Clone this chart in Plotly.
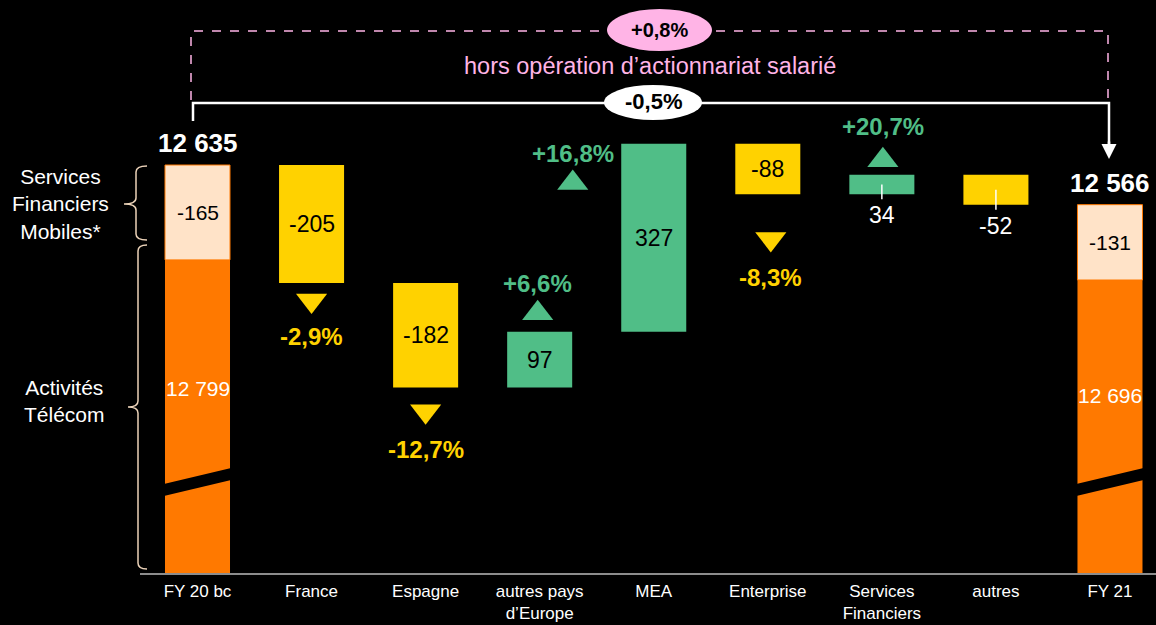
import plotly.graph_objects as go

# ---------------- data ----------------
categories = ["FY 20 bc", "France", "Espagne", "autres pays<br>d’Europe", "MEA",
              "Enterprise", "Services<br>Financiers", "autres", "FY 21"]
total_values = [12635, 12566]            # FY 20 bc, FY 21
total_labels = ["12 635", "12 566"]
mfs_values = [-165, -131]                # Services Financiers Mobiles*
mfs_labels = ["-165", "-131"]
telecom_values = [12799, 12696]          # Activités Télécom
telecom_labels = ["12 799", "12 696"]
delta_values = [-205, -182, 97, 327, -88, 34, -52]
delta_labels = ["-205", "-182", "97", "327", "-88", "34", "-52"]
growth_labels = ["-2,9%", "-12,7%", "+6,6%", "+16,8%", "-8,3%", "+20,7%", ""]
reported_growth = "-0,5%"
adjusted_growth = "+0,8%"
adjusted_note = "hors opération d’actionnariat salarié"
left_labels = ["Services<br>Financiers<br>Mobiles*", "Activités<br>Télécom"]

# ---------------- style ----------------
ORANGE = "#FF7900"
PEACH = "#FFE3C8"
YELLOW = "#FFD200"
GREEN = "#50BE87"
PINK = "#FFB4E6"
BRACE = "#EBD2B8"
FONT = "Liberation Sans, Arial, Helvetica, sans-serif"

W, H = 1156, 625
PLOT_H = 574                  # plot area height (px)
K = 0.575                     # px per unit on the value axis
Y_LO = total_values[0] - (PLOT_H - 165) / K
Y_HI = Y_LO + PLOT_H / K
STEP = 114.06                 # px between categories
X_LO = -197.5 / STEP
X_HI = X_LO + W / STEP
BAR_W = 0.57


def PX(px):
    return px / W


def PY(py):
    return 1 - py / PLOT_H


def du(px):
    return px / K


def A(**kw):
    d = dict(showarrow=False, xanchor="center", yanchor="middle")
    d.update(kw)
    return d


fig = go.Figure()

# ---- totals (stacked orange + peach) ----
fin_x = [0, len(categories) - 1]
telecom_tops = [t + m for t, m in zip(total_values, mfs_values)]
fig.add_trace(go.Bar(x=fin_x, y=telecom_tops, base=[0, 0], width=BAR_W,
                     marker=dict(color=ORANGE, line=dict(width=0)), hoverinfo="skip"))
fig.add_trace(go.Bar(x=fin_x, y=[-m for m in mfs_values], base=telecom_tops, width=BAR_W,
                     marker=dict(color=PEACH, line=dict(color=ORANGE, width=1)), hoverinfo="skip"))

# ---- deltas ----
bases = []
cum = total_values[0]
for d in delta_values:
    bases.append(cum)
    cum += d
dx = list(range(1, len(delta_values) + 1))
dcolors = [GREEN if d > 0 else YELLOW for d in delta_values]
fig.add_trace(go.Bar(x=dx, y=delta_values, base=bases, width=BAR_W,
                     marker=dict(color=dcolors, line=dict(width=0)), hoverinfo="skip"))

ann = []
shapes = []

# total labels above bars
for xi, t, lab in zip(fin_x, total_values, total_labels):
    ann.append(A(x=xi, y=t, xref="x", yref="y", text=lab, yshift=22,
                 font=dict(size=26, color="white", family=FONT, weight="bold")))
# mfs labels centred in peach segment
for xi, tt, m, lab in zip(fin_x, telecom_tops, mfs_values, mfs_labels):
    ann.append(A(x=xi, y=tt - m / 2, xref="x", yref="y", text=lab,
                 font=dict(size=21, color="black", family=FONT)))
# telecom labels
for xi, lab, ypx in zip(fin_x, telecom_labels, [388, 395]):
    ann.append(A(x=xi, y=PY(ypx), xref="x", yref="paper", text=lab,
                 font=dict(size=21, color="white", family=FONT)))

# break marks on the total bars
for xi in fin_x:
    x0 = xi - BAR_W / 2 - 0.01
    x1 = xi + BAR_W / 2 + 0.01
    shapes.append(dict(type="path", xref="x", yref="paper",
                       path=f"M{x0},{PY(484)} L{x1},{PY(468)} L{x1},{PY(480)} L{x0},{PY(496)} Z",
                       fillcolor="black", line=dict(width=0)))

# delta value labels
for i, (xi, b, d, lab) in enumerate(zip(dx, bases, delta_values, delta_labels)):
    if abs(d) * K >= 40:
        ann.append(A(x=xi, y=b + d / 2, xref="x", yref="y", text=lab,
                     font=dict(size=23, color="black", family=FONT)))
    else:
        bot = min(b, b + d)
        shapes.append(dict(type="line", xref="x", yref="y", x0=xi, x1=xi,
                           y0=b + d / 2, y1=bot - du(5), line=dict(color="white", width=1.5)))
        ann.append(A(x=xi, y=bot, xref="x", yref="y", text=lab, yshift=-21,
                     font=dict(size=23, color="white", family=FONT)))

# growth triangles and labels (pixel offsets from the bar end)
tri_shift = [-21, -27, 22, -36, -48, 18, None]
lbl_shift = [-54, -62, 48, -10, -83, 48, None]
x_shift = [0, 0, -2, -81, 3, 1, 0]
TRI = 27
tri_x, tri_y, tri_sym, tri_col = [], [], [], []
for i, (xi, b, d, g) in enumerate(zip(dx, bases, delta_values, growth_labels)):
    if not g:
        continue
    up = d > 0
    ref = max(b, b + d) if up else min(b, b + d)
    col = GREEN if up else YELLOW
    yc = ref + du(tri_shift[i])
    r = TRI / 2
    if up:
        tri_y.append(yc - du(r / 4))
        tri_sym.append("triangle-up")
    else:
        tri_y.append(yc + du(r / 4))
        tri_sym.append("triangle-down")
    tri_x.append(xi + x_shift[i] / STEP)
    tri_col.append(col)
    ann.append(A(x=xi + x_shift[i] / STEP, y=ref + du(lbl_shift[i]), xref="x", yref="y",
                 text=g, font=dict(size=24, color=col, family=FONT, weight="bold")))
fig.add_trace(go.Scatter(x=tri_x, y=tri_y, mode="markers", hoverinfo="skip",
                         marker=dict(symbol=tri_sym, size=TRI, color=tri_col, line=dict(width=0))))

# left labels and braces
ann.append(A(x=PX(61), y=PY(204), xref="paper", yref="paper", text=left_labels[0],
             font=dict(size=21, color="white", family=FONT)))
ann.append(A(x=PX(64), y=PY(401), xref="paper", yref="paper", text=left_labels[1],
             font=dict(size=21, color="white", family=FONT)))


def brace(xl, xtip, xhook, ytop, ymid, ybot, r=6):
    pts = [
        f"M{PX(xhook)},{PY(ytop)}",
        f"Q{PX(xl)},{PY(ytop)} {PX(xl)},{PY(ytop + r)}",
        f"L{PX(xl)},{PY(ymid - r)}",
        f"Q{PX(xl)},{PY(ymid)} {PX(xtip)},{PY(ymid)}",
        f"Q{PX(xl)},{PY(ymid)} {PX(xl)},{PY(ymid + r)}",
        f"L{PX(xl)},{PY(ybot - r)}",
        f"Q{PX(xl)},{PY(ybot)} {PX(xhook)},{PY(ybot)}",
    ]
    return dict(type="path", xref="paper", yref="paper", path=" ".join(pts),
                line=dict(color=BRACE, width=1.5))


shapes.append(brace(136, 124, 147, 166, 204, 240))
shapes.append(brace(138, 128, 147, 245, 407, 569))

# x axis baseline
shapes.append(dict(type="line", xref="paper", yref="paper", x0=PX(140), x1=1, y0=0, y1=0,
                   line=dict(color="#8C8C8C", width=2)))

# top brackets
shapes.append(dict(type="path", xref="paper", yref="paper",
                   path=f"M{PX(191)},{PY(100)} L{PX(191)},{PY(31)} L{PX(1108)},{PY(31)} L{PX(1108)},{PY(100)}",
                   line=dict(color=PINK, width=1.5, dash="dash")))
shapes.append(dict(type="path", xref="paper", yref="paper",
                   path=f"M{PX(193)},{PY(121)} L{PX(193)},{PY(103)} L{PX(1109)},{PY(103)} L{PX(1109)},{PY(146)}",
                   line=dict(color="white", width=2.5)))
ann.append(dict(x=PX(1109), y=PY(159), xref="paper", yref="paper", ax=0, ay=-19,
                axref="pixel", ayref="pixel", text="", showarrow=True, arrowhead=2,
                arrowsize=1.2, arrowwidth=2.5, arrowcolor="white"))
shapes.append(dict(type="circle", xref="paper", yref="paper", x0=PX(607), x1=PX(712),
                   y0=PY(51), y1=PY(9), fillcolor=PINK, line=dict(width=0)))
shapes.append(dict(type="circle", xref="paper", yref="paper", x0=PX(604), x1=PX(702),
                   y0=PY(120), y1=PY(85), fillcolor="white", line=dict(width=0)))
ann.append(A(x=PX(659.5), y=PY(30), xref="paper", yref="paper", text=adjusted_growth,
             font=dict(size=20, color="black", family=FONT, weight="bold")))
ann.append(A(x=PX(653), y=PY(102), xref="paper", yref="paper", text=reported_growth,
             font=dict(size=22, color="black", family=FONT, weight="bold")))
ann.append(A(x=PX(650), y=PY(66), xref="paper", yref="paper", text=adjusted_note,
             font=dict(size=23.5, color=PINK, family=FONT)))

fig.update_layout(
    width=W, height=H,
    margin=dict(l=0, r=0, t=0, b=H - PLOT_H, pad=0),
    paper_bgcolor="black", plot_bgcolor="black",
    barmode="overlay", showlegend=False,
    font=dict(family=FONT, color="white"),
    xaxis=dict(range=[X_LO, X_HI], tickvals=list(range(len(categories))), ticktext=categories,
               showgrid=False, zeroline=False, showline=False, ticks="", ticklabelstandoff=5,
               automargin=False,
               tickfont=dict(size=17, color="white", family=FONT), fixedrange=True),
    yaxis=dict(range=[Y_LO, Y_HI], visible=False, fixedrange=True, automargin=False),
    annotations=ann, shapes=shapes,
)

fig.write_html("out.html", config={"displayModeBar": False},
               post_script="document.body.style.margin='0';document.body.style.background='black';")
